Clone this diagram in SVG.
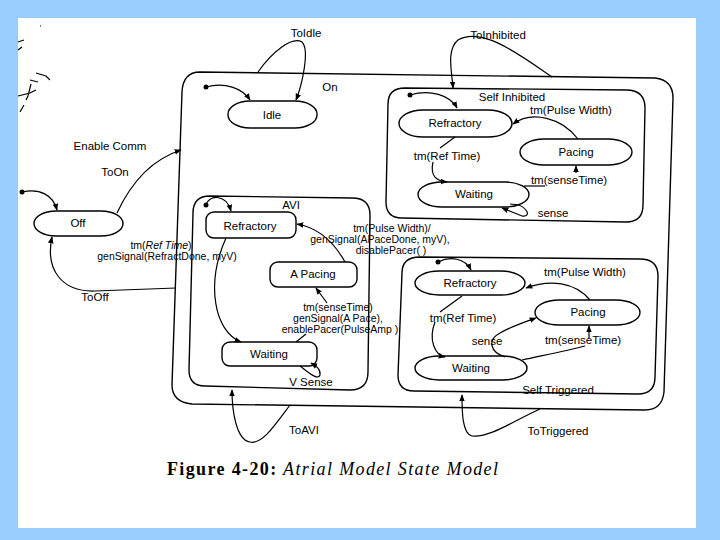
<svg xmlns="http://www.w3.org/2000/svg" width="720" height="540" viewBox="0 0 720 540">
<defs>
<style>
.t{font-family:"Liberation Sans",Arial,sans-serif;font-size:11.5px;fill:#000;text-anchor:middle}
.m{font-family:"Liberation Sans",Arial,sans-serif;font-size:10.5px;fill:#000;text-anchor:middle}
.s{fill:none;stroke:#000;stroke-width:1.4}
.e{fill:#fff;stroke:#000;stroke-width:1.4}
.c{fill:none;stroke:#000;stroke-width:1.2}
.a{fill:none;stroke:#000;stroke-width:1.2;marker-end:url(#ah)}
.d{fill:#000}
</style>
<marker id="ah" viewBox="0 0 10 10" refX="9" refY="5" markerWidth="7" markerHeight="7" orient="auto" markerUnits="userSpaceOnUse">
<path d="M0,1 L10,5 L0,9 Z" fill="#000"/>
</marker>
</defs>
<rect x="0" y="0" width="720" height="540" fill="#99CCFF"/>
<rect x="18" y="18" width="678" height="510" fill="#fff"/>

<g id="scan-marks" class="c">
<path d="M18,42 L24,40 M18,50 L22,47 M40,26 L41,26 M36,73 L46,76 L50,80 M30,80 L38,82 M31,84 L28,96 L26,100 M18,96 L30,93 L36,90 M20,112 L24,105"/>
</g>

<g id="On">
<path class="s" d="M200,72 L655,78 Q673,80 673,98 L664,392 Q662,410 645,410 L192,404 Q172,402 172,385 L182,92 Q183,72 200,72 Z"/>
<text class="t" x="330" y="91">On</text>
</g>

<g id="SelfInhibited">
<path class="s" d="M405,88 L628,90 Q645,91 645,108 L643,205 Q643,222 626,222 L402,218 Q386,218 386,202 L388,104 Q388,88 405,88 Z"/>
<text class="t" x="512" y="101">Self Inhibited</text>
</g>

<g id="AVI">
<path class="s" d="M210,196 L352,198 Q370,198 370,215 L368,372 Q368,390 350,390 L205,386 Q189,386 189,370 L193,213 Q193,196 210,196 Z"/>
<text class="t" x="291" y="209">AVI</text>
</g>

<g id="SelfTriggered">
<path class="s" d="M420,257 L640,259 Q658,259 658,276 L655,377 Q655,394 638,394 L414,391 Q398,391 398,375 L402,273 Q402,257 420,257 Z"/>
<text class="t" x="558" y="394">Self Triggered</text>
</g>

<g id="Idle"><rect class="e" x="228" y="101" width="89" height="27" rx="22" ry="13"/><text class="t" x="272" y="119">Idle</text></g>
<g id="Off"><rect class="e" x="34" y="211" width="89" height="25" rx="22" ry="12.5"/><text class="t" x="78" y="227">Off</text></g>

<g id="SI-Refractory"><rect class="e" x="399" y="110" width="113" height="27" rx="24" ry="13.5"/><text class="t" x="455" y="127">Refractory</text></g>
<g id="SI-Pacing"><rect class="e" x="520" y="139" width="112" height="26" rx="24" ry="13"/><text class="t" x="576" y="156">Pacing</text></g>
<g id="SI-Waiting"><rect class="e" x="418" y="182" width="111" height="25" rx="24" ry="12.5"/><text class="t" x="474" y="198">Waiting</text></g>

<g id="AVI-Refractory"><rect class="e" x="206" y="212" width="90" height="26" rx="8"/><text class="t" x="250" y="230">Refractory</text></g>
<g id="AVI-APacing"><rect class="e" x="270" y="262" width="87" height="25" rx="8"/><text class="t" x="313" y="278">A Pacing</text></g>
<g id="AVI-Waiting"><rect class="e" x="222" y="342" width="95" height="24" rx="8"/><text class="t" x="269" y="358">Waiting</text></g>

<g id="ST-Refractory"><rect class="e" x="415" y="271" width="110" height="24" rx="24" ry="12"/><text class="t" x="470" y="287">Refractory</text></g>
<g id="ST-Pacing"><rect class="e" x="535" y="300" width="105" height="25" rx="24" ry="12.5"/><text class="t" x="588" y="316">Pacing</text></g>
<g id="ST-Waiting"><rect class="e" x="415" y="356" width="112" height="24" rx="24" ry="12"/><text class="t" x="471" y="372">Waiting</text></g>

<g id="connectors">
<circle class="d" cx="206" cy="87" r="2.5"/>
<path class="a" d="M206,87 C225,82 242,88 250,100"/>
<path class="a" d="M258,72 C272,52 292,36 302,42 C310,50 302,85 296,100"/>
<circle class="d" cx="22" cy="192" r="2.5"/>
<path class="a" d="M22,192 C40,188 53,195 57,210"/>
<path class="a" d="M117,213 C130,185 150,160 181,150"/>
<path class="a" d="M176,288 L95,291 C62,292 45,270 52,237"/>
<path class="a" d="M552,77 C520,55 482,26 458,40 C446,50 452,72 453,88"/>

<circle class="d" cx="410" cy="95" r="2.5"/>
<path class="a" d="M410,95 C430,89 450,95 457,108"/>
<path class="a" d="M578,139 C562,118 532,110 513,124"/>
<path class="c" d="M455,137 L440,148"/>
<path class="a" d="M433,162 C430,176 436,181 447,182"/>
<path class="c" d="M524,186 L545,186"/>
<path class="a" d="M576,173 L576,166"/>
<path class="a" d="M510,204 C528,204 532,218 522,216 L502,208"/>

<circle class="d" cx="206" cy="205" r="2.5"/>
<path class="a" d="M206,205 C208,195 226,193 231,211"/>
<path class="a" d="M345,262 C335,244 320,228 297,224"/>
<path class="a" d="M226,238 C205,285 215,332 241,342"/>
<path class="c" d="M296,342 L306,334"/>
<path class="a" d="M327,303 L316,288"/>
<path class="a" d="M300,366 C308,372 318,381 320,375 C321,369 316,366 311,363"/>
<path class="a" d="M290,405 C275,425 262,445 250,442 C236,440 232,410 232,390"/>
<path class="a" d="M540,409 C515,420 490,438 472,436 C462,434 462,410 462,395"/>

<circle class="d" cx="438" cy="262" r="2.5"/>
<path class="a" d="M438,262 C450,256 465,258 471,270"/>
<path class="a" d="M590,300 C575,282 550,279 526,288"/>
<path class="c" d="M462,296 L440,312"/>
<path class="a" d="M435,322 C428,340 435,355 445,357"/>
<path class="a" d="M505,357 C490,352 487,340 500,333 C510,327 525,322 536,318"/>
<path class="c" d="M522,360 C545,355 570,350 585,346"/>
<path class="a" d="M589,338 L589,326"/>
</g>

<g id="labels">
<text class="t" x="306" y="37">ToIdle</text>
<text class="t" x="498" y="39">ToInhibited</text>
<text class="t" x="110" y="150">Enable Comm</text>
<text class="t" x="115" y="176">ToOn</text>
<text class="t" x="95" y="301">ToOff</text>
<text class="t" x="571" y="114">tm(Pulse Width)</text>
<text class="t" x="447" y="160">tm(Ref Time)</text>
<text class="t" x="569" y="184">tm(senseTime)</text>
<text class="t" x="553" y="217">sense</text>
<text class="m" x="392" y="232">tm(Pulse Width)/</text>
<text class="m" x="380" y="243">genSignal(APaceDone, myV),</text>
<text class="m" x="391" y="254">disablePacer( )</text>
<text class="m" x="161" y="249">tm(<tspan font-style="italic">Ref Time</tspan>)</text>
<text class="m" x="167" y="260">genSignal(RefractDone, myV)</text>
<text class="m" x="338" y="311">tm(senseTime)</text>
<text class="m" x="338" y="322">genSignal(A Pace),</text>
<text class="m" x="340" y="333">enablePacer(PulseAmp )</text>
<text class="t" x="311" y="386">V Sense</text>
<text class="t" x="304" y="434">ToAVI</text>
<text class="t" x="585" y="276">tm(Pulse Width)</text>
<text class="t" x="463" y="322">tm(Ref Time)</text>
<text class="t" x="487" y="345">sense</text>
<text class="t" x="583" y="344">tm(senseTime)</text>
<text class="t" x="558" y="435">ToTriggered</text>
</g>

<text x="167" y="475" font-family="'Liberation Serif','Times New Roman',serif" font-size="18" fill="#000" textLength="331" lengthAdjust="spacing"><tspan font-weight="bold">Figure 4-20:</tspan><tspan font-style="italic"> Atrial Model State Model</tspan></text>
</svg>
